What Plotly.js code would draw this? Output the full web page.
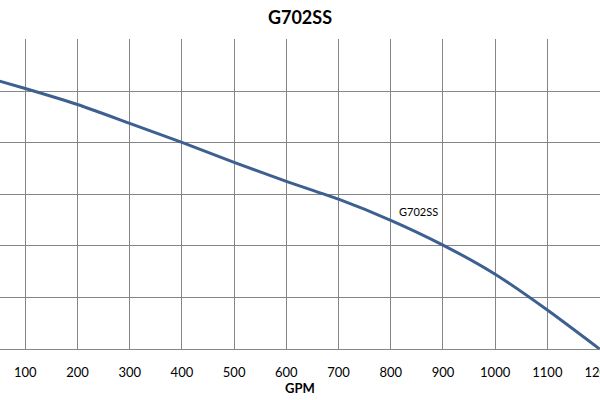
<!DOCTYPE html>
<html>
<head>
<meta charset="utf-8">
<script src="https://cdn.plot.ly/plotly-3.0.1.min.js"></script>
<style>
  html, body { margin: 0; padding: 0; background: #fff; }
  #chart { width: 600px; height: 400px; }
</style>
</head>
<body>
<div id="chart"></div>
<script>
const gpm = [0, 100, 200, 300, 400, 500, 600, 700, 800, 900, 1000, 1100, 1200];
const head = [106.8, 101.0, 94.8, 87.5, 80.1, 72.4, 65.0, 58.1, 49.9, 40.3, 29.0, 15.1, 0];
const xTicks = [100, 200, 300, 400, 500, 600, 700, 800, 900, 1000, 1100, 1200];
const seriesName = 'G702SS';
const chartTitle = 'G702SS';
const xTitle = 'GPM';

const trace = {
  x: gpm,
  y: head,
  type: 'scatter',
  mode: 'lines',
  name: seriesName,
  line: { color: '#3D6090', width: 3, shape: 'spline', smoothing: 0.6 },
  hoverinfo: 'skip'
};

const layout = {
  width: 600,
  height: 400,
  margin: { l: 0, r: 0, t: 39, b: 51 },
  paper_bgcolor: '#ffffff',
  plot_bgcolor: '#ffffff',
  showlegend: false,
  font: { family: 'Lato, "Open Sans", sans-serif', color: '#000' },
  title: {
    text: '<b>' + chartTitle + '</b>',
    x: 0.5, xanchor: 'center',
    y: 0.955, yanchor: 'middle',
    font: { size: 18, family: 'Lato, "Open Sans", sans-serif', color: '#000' }
  },
  xaxis: {
    range: [51.6, 1200.8],
    tickvals: xTicks,
    ticktext: xTicks.map(String),
    showgrid: true,
    gridcolor: '#868686',
    gridwidth: 1,
    showline: true,
    linecolor: '#868686',
    linewidth: 1,
    ticks: '',
    zeroline: false,
    tickfont: { size: 13, color: '#000' },
    ticklabelstandoff: 11,
    ticklabeloverflow: 'allow',
    title: {
      text: '<b>' + xTitle + '</b>',
      font: { size: 13, color: '#000' },
      standoff: 5
    }
  },
  yaxis: {
    range: [0, 120.2],
    dtick: 20,
    tick0: 0,
    showgrid: true,
    gridcolor: '#868686',
    gridwidth: 1,
    showticklabels: false,
    ticks: '',
    zeroline: false,
    showline: false
  },
  annotations: [{
    x: 852.8, y: 53.4,
    xref: 'x', yref: 'y',
    text: seriesName,
    showarrow: false,
    font: { size: 11, color: '#000' }
  }]
};

Plotly.newPlot('chart', [trace], layout, { displayModeBar: false, staticPlot: true });
</script>
</body>
</html>
